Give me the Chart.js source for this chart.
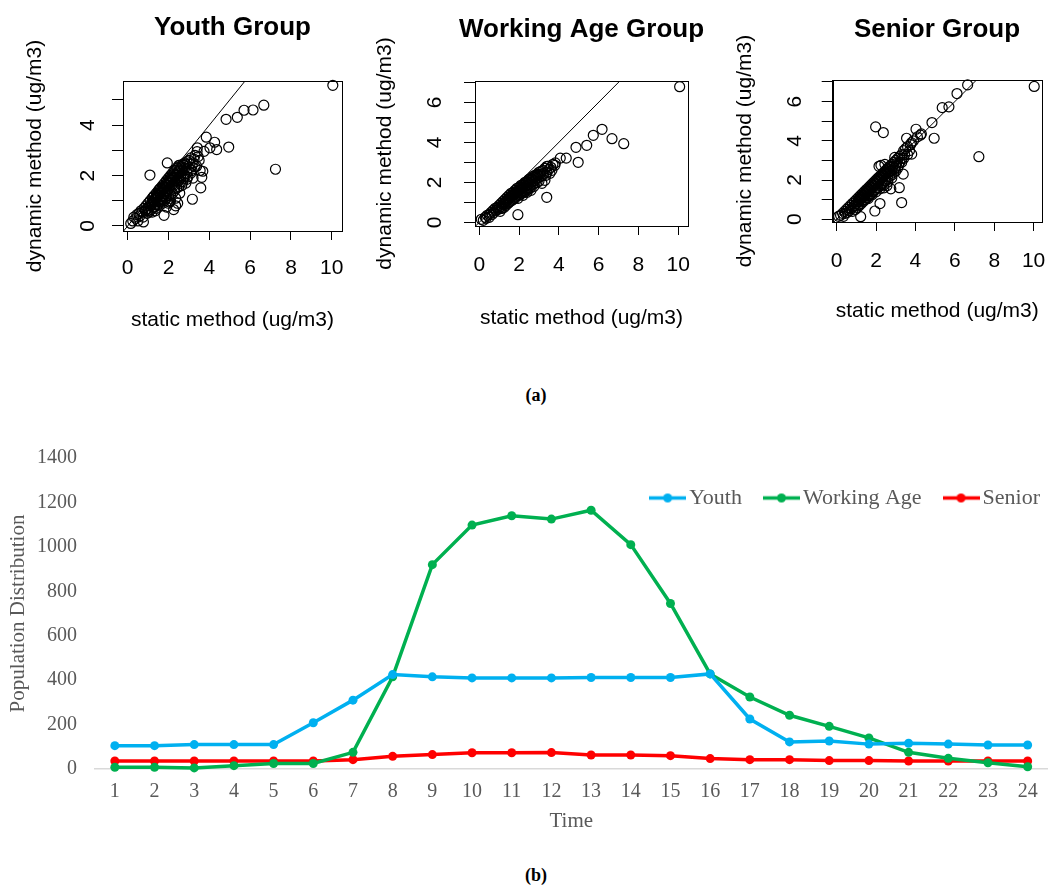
<!DOCTYPE html>
<html>
<head>
<meta charset="utf-8">
<script src="https://cdn.jsdelivr.net/npm/chart.js@4.4.0/dist/chart.umd.min.js"></script>
<style>
  html, body { margin: 0; padding: 0; background: #fff; overflow: hidden; }
  body { width: 1052px; height: 891px; position: relative; overflow: hidden; }
  canvas { position: absolute; }
  .cap { position: absolute; width: 100px; text-align: center; font-family: 'Liberation Serif', serif; font-weight: bold; font-size: 18px; color: #000; }
</style>
</head>
<body>
<canvas id="p1" width="465" height="345" style="left:0px;top:0px"></canvas>
<canvas id="p2" width="463" height="345" style="left:350px;top:0px"></canvas>
<canvas id="p3" width="474" height="345" style="left:700px;top:0px"></canvas>
<div class="cap" style="left:486px;top:385px">(a)</div>
<canvas id="p4" width="1052" height="432" style="left:0px;top:428px"></canvas>
<div class="cap" style="left:486px;top:865px">(b)</div>
<script>
// ---------- (a) scatter data: [static, dynamic] in ug/m3 ----------
const youthPts = [
  [10.05,5.58],[6.67,4.79],[6.14,4.6],[5.70,4.59],[5.37,4.31],[4.82,4.23],[7.24,2.25],[4.95,3.13],
  [3.85,3.52],[4.26,3.32],[4.36,3.03],[4.03,3.1],[3.41,3.1],[3.74,2.96],[1.94,2.5],[1.09,2.02],
  [3.63,1.93],[3.58,1.51],[3.17,1.06],[1.78,0.42],[0.77,0.16],[3.38,2.37],[3.68,2.17],
  [0.15,0.1],[0.25,0.2],[0.3,0.35],[0.4,0.3],[0.45,0.45],[0.5,0.2],[0.55,0.5],[0.6,0.4],[0.65,0.6],
  [0.7,0.55],[0.75,0.35],[0.8,0.7],[0.85,0.6],[0.9,0.8],[0.95,0.5],[1.0,0.9],[1.0,0.7],[1.05,0.55],
  [1.1,1.0],[1.1,0.8],[1.15,0.65],[1.2,1.1],[1.2,0.9],[1.25,0.75],[1.3,1.2],[1.3,1.0],[1.35,0.85],
  [1.35,0.6],[1.4,1.3],[1.4,1.1],[1.45,0.95],[1.5,1.4],[1.5,1.2],[1.5,1.0],[1.55,0.8],[1.6,1.5],
  [1.6,1.3],[1.65,1.1],[1.7,1.6],[1.7,1.4],[1.7,0.9],[1.75,1.2],[1.8,1.7],[1.8,1.5],[1.8,1.0],
  [1.85,1.3],[1.9,1.8],[1.9,1.6],[1.9,0.75],[1.95,1.4],[2.0,1.9],[2.0,1.7],[2.0,1.2],[2.05,1.5],
  [2.1,2.0],[2.1,1.8],[2.1,1.0],[2.15,1.6],[2.2,2.1],[2.2,1.9],[2.2,1.3],[2.25,0.65],[2.3,2.2],
  [2.3,1.75],[2.35,1.1],[2.4,2.3],[2.4,2.0],[2.4,1.5],[2.45,0.9],[2.5,2.4],[2.5,2.15],[2.5,1.8],
  [2.55,1.3],[2.6,2.35],[2.6,2.0],[2.65,1.6],[2.7,2.45],[2.7,2.2],[2.75,1.9],[2.8,2.5],[2.8,2.3],
  [2.85,1.7],[2.9,2.55],[2.9,2.1],[3.0,2.6],[3.0,2.3],[3.1,2.7],[3.2,2.5],[3.3,2.8],[3.3,2.35],
  [3.4,2.95],[3.5,2.6],[3.55,2.2],
  [1.25,1.15],[1.45,1.25],[1.55,1.45],[1.65,1.35],[1.75,1.55],[1.85,1.65],[1.95,1.75],[2.05,1.85],
  [2.15,1.95],[2.25,2.05],[2.35,2.2],[2.45,2.3],[2.55,2.4],[1.6,0.95],[1.85,1.15],[2.0,0.9],
  [2.3,1.4],[2.5,1.55],[2.7,1.75],[2.95,1.95],[3.1,2.1],[3.2,1.9],[1.4,0.7],[1.2,0.55],
  [1.15,0.85],[1.25,1.0],[1.35,1.1],[1.45,1.15],[1.55,1.3],[1.65,1.45],[1.75,1.45],[1.85,1.55],
  [1.95,1.6],[2.05,1.7],[2.15,1.8],[2.25,1.9],[2.35,2.0],[2.45,2.1],[2.55,2.2],[2.65,2.3],[2.75,2.4],
  [2.85,2.45],[1.6,1.15],[1.8,1.35],[2.0,1.45],[2.2,1.65],[2.4,1.8],[2.6,1.9],[2.8,2.0],[1.3,0.75],
  [1.5,0.85],[1.7,1.05],[1.9,1.1],[2.1,1.25],[2.3,1.5],[2.6,1.75],[2.9,1.85],[3.05,2.45],[3.15,2.2],
  [3.25,2.65],[3.45,2.75],[2.35,0.8],[2.05,0.95],[0.9,0.65],[1.0,0.6]
];
const workingPts = [
  [10.07,6.78],[6.17,4.65],[5.73,4.35],[6.67,4.18],[7.26,3.93],[5.40,3.85],[4.86,3.75],[4.97,3.0],
  [4.37,3.21],[4.07,3.21],[3.82,2.97],[3.4,2.8],[3.39,1.25],[1.94,0.38],
  [0.1,0.15],[0.2,0.1],[0.3,0.25],[0.35,0.2],[0.4,0.35],[0.5,0.4],[0.5,0.25],[0.6,0.5],[0.65,0.4],
  [0.7,0.6],[0.75,0.5],[0.8,0.7],[0.85,0.6],[0.9,0.75],[0.95,0.65],[1.0,0.85],[1.0,0.7],[1.05,0.55],
  [1.1,0.95],[1.1,0.8],[1.15,0.7],[1.2,1.05],[1.2,0.9],[1.25,0.75],[1.3,1.15],[1.3,1.0],[1.35,0.85],
  [1.4,1.25],[1.4,1.1],[1.45,0.95],[1.5,1.35],[1.5,1.2],[1.55,1.05],[1.6,1.45],[1.6,1.3],[1.65,1.1],
  [1.7,1.5],[1.7,1.35],[1.75,1.2],[1.8,1.6],[1.8,1.45],[1.85,1.3],[1.9,1.7],[1.9,1.5],[1.95,1.2],
  [2.0,1.75],[2.0,1.6],[2.05,1.4],[2.1,1.85],[2.1,1.65],[2.15,1.45],[2.2,1.9],[2.2,1.7],[2.25,1.5],
  [2.3,2.0],[2.3,1.8],[2.35,1.55],[2.4,2.05],[2.4,1.85],[2.45,1.65],[2.5,2.15],[2.5,1.9],[2.55,1.7],
  [2.6,2.2],[2.6,2.0],[2.7,2.3],[2.7,2.05],[2.75,1.8],[2.8,2.35],[2.8,2.1],[2.9,2.4],[2.9,2.2],
  [3.0,2.5],[3.0,2.25],[3.1,2.55],[3.2,2.6],[3.2,2.35],[3.3,2.7],[3.3,2.1],[3.4,2.5],[3.5,2.65],
  [3.6,2.75],[3.7,2.9],
  [1.5,1.0],[1.7,1.15],[1.9,1.35],[2.1,1.5],[2.3,1.65],[2.5,1.75],[2.7,1.9],[2.9,2.0],[3.1,2.3],
  [1.3,0.9],[1.1,0.7],[2.2,1.35],[2.4,1.5],[2.6,1.6],[3.15,1.95],
  [1.25,0.95],[1.35,1.05],[1.45,1.15],[1.55,1.25],[1.65,1.35],[1.75,1.4],[1.85,1.5],[1.95,1.55],
  [2.05,1.65],[2.15,1.75],[2.25,1.85],[2.35,1.95],[2.45,2.0],[2.55,2.1],[2.65,2.15],[2.75,2.25],
  [2.85,2.3],[2.95,2.35],[3.05,2.4],[3.25,2.45],[1.8,1.2],[2.0,1.35],[2.2,1.55],[2.4,1.7],[2.6,1.85],
  [2.8,1.95],[3.0,2.05],[3.35,2.35],[3.55,2.45],[3.45,2.8],[3.8,2.85],[3.65,2.6]
];
const seniorPts = [
  [10.03,6.77],[6.65,6.85],[6.11,6.41],[5.7,5.73],[5.36,5.69],[4.84,4.93],[4.95,4.13],[7.22,3.19],
  [1.98,4.71],[2.37,4.42],[4.03,4.59],[4.26,4.29],[3.55,4.13],[3.81,3.32],[3.38,2.30],[3.18,1.61],
  [3.30,0.85],[2.2,0.8],[1.94,0.42],[1.22,0.13],
  [0.1,0.15],[0.2,0.2],[0.3,0.3],[0.35,0.15],[0.4,0.4],[0.45,0.3],[0.5,0.5],[0.55,0.35],[0.6,0.6],
  [0.65,0.45],[0.7,0.7],[0.75,0.55],[0.8,0.8],[0.8,0.4],[0.85,0.65],[0.9,0.9],[0.9,0.7],[0.95,0.5],
  [1.0,1.0],[1.0,0.8],[1.05,0.6],[1.1,1.1],[1.1,0.9],[1.15,0.7],[1.2,1.2],[1.2,1.0],[1.25,0.8],
  [1.3,1.3],[1.3,1.1],[1.35,0.9],[1.4,1.4],[1.4,1.2],[1.45,1.0],[1.5,1.5],[1.5,1.3],[1.55,1.1],
  [1.6,1.6],[1.6,1.4],[1.65,1.2],[1.7,1.7],[1.7,1.5],[1.75,1.3],[1.8,1.8],[1.8,1.6],[1.85,1.4],
  [1.9,1.9],[1.9,1.7],[1.95,1.5],[2.0,2.0],[2.0,1.8],[2.05,1.6],[2.1,2.1],[2.1,1.9],[2.15,2.7],
  [2.2,2.2],[2.2,2.0],[2.25,1.7],[2.3,2.3],[2.3,2.1],[2.35,1.85],[2.4,2.4],[2.4,2.2],[2.45,1.95],
  [2.5,2.5],[2.5,2.3],[2.6,2.6],[2.6,2.35],[2.7,2.7],[2.7,2.45],[2.8,2.8],[2.8,2.5],[2.9,2.9],
  [2.95,2.6],[3.0,3.0],[3.0,2.7],[3.1,3.1],[3.2,3.2],[3.3,3.3],[3.3,2.9],[3.4,3.5],[3.5,3.6],
  [3.6,3.7],[3.6,3.3],[3.8,3.9],[3.9,4.0],[3.3,3.1],
  [1.5,1.1],[1.7,1.25],[1.9,1.45],[2.1,1.6],[2.3,1.8],[2.5,2.0],[2.7,2.2],[2.9,2.4],[3.1,2.6],
  [1.3,0.95],[1.1,0.75],[2.4,1.6],[2.6,1.9],[2.8,2.1],[3.2,2.9],[3.4,3.1],
  [1.15,1.05],[1.25,1.15],[1.35,1.25],[1.45,1.35],[1.55,1.45],[1.65,1.55],[1.75,1.65],[1.85,1.75],
  [1.95,1.85],[2.05,1.95],[2.15,2.05],[2.25,2.15],[2.35,2.25],[2.45,2.35],[2.55,2.45],[2.65,2.55],
  [2.75,2.65],[2.85,2.7],[1.6,1.05],[1.8,1.25],[2.0,1.4],[2.2,1.55],[2.4,1.75],[2.6,2.05],[2.8,2.25],
  [3.0,2.45],[3.05,2.85],[3.15,2.75],[3.45,3.3],[3.7,3.5],[3.75,3.8],[4.1,4.2],[4.3,4.35],[2.25,2.75],
  [2.45,2.8],[2.95,3.15],[2.75,1.55],[2.55,1.7]
];
const identityLine = [[-1,-1],[12,12]];
const xTickStep = 2;

// ---------- (b) line chart data ----------
const hours = ['1','2','3','4','5','6','7','8','9','10','11','12','13','14','15','16','17','18','19','20','21','22','23','24'];
const youth   = [105,105,110,110,110,208,310,425,415,410,410,410,412,412,412,428,225,122,126,112,116,112,108,108];
const working = [8,8,5,15,25,25,75,415,920,1098,1140,1125,1165,1010,745,428,324,242,192,140,75,48,28,10];
const senior  = [36,36,36,36,36,36,42,57,65,73,73,74,63,63,60,47,42,42,38,38,36,36,36,36];
const seriesNames = ['Youth','Working Age','Senior'];
const seriesColors = ['#00B0F0','#00B050','#FF0000'];

// ---------- shared ----------
const SANS = "'Liberation Sans', Arial, sans-serif";
const SERIF = "'Liberation Serif', 'Times New Roman', serif";

const boxPlugin = {
  id: 'box',
  afterDatasetsDraw(chart) {
    const a = chart.chartArea, ctx = chart.ctx;
    ctx.save();
    ctx.strokeStyle = '#000';
    ctx.lineWidth = 1;
    ctx.strokeRect(Math.round(a.left) + 0.5, Math.round(a.top) + 0.5, Math.round(a.right - a.left), Math.round(a.bottom - a.top));
    ctx.restore();
  }
};

function scatterPanel(id, cfg) {
  const pts = cfg.pts.map(p => ({x: p[0], y: p[1]}));
  const line = identityLine.map(p => ({x: p[0], y: p[1]}));
  new Chart(document.getElementById(id), {
    type: 'scatter',
    data: {
      datasets: [
        { type: 'line', data: line, borderColor: '#000', borderWidth: 1, pointRadius: 0, clip: 0, order: 1 },
        { data: pts, pointRadius: 5, pointBorderWidth: 1.2, borderColor: '#000', backgroundColor: 'rgba(0,0,0,0)',
          pointBackgroundColor: 'rgba(0,0,0,0)', pointBorderColor: '#000', clip: false, order: 0 }
      ]
    },
    options: {
      responsive: false, animation: false, events: [],
      layout: { padding: 0 },
      plugins: {
        legend: { display: false }, tooltip: { enabled: false },
        title: { display: true, text: cfg.title, color: '#000',
          font: { family: SANS, size: 26, weight: 'bold', lineHeight: 1.2 },
          padding: { top: cfg.titleTop, bottom: cfg.titleBottom } }
      },
      scales: {
        x: {
          type: 'linear', min: cfg.xmin, max: cfg.xmax,
          ticks: { stepSize: xTickStep, includeBounds: false, autoSkip: false, maxRotation: 0, minRotation: 0,
            padding: cfg.xTickPad, color: '#000', font: { family: SANS, size: 21 } },
          grid: { display: true, drawOnChartArea: false, drawTicks: true, tickLength: 9, color: '#000', tickWidth: 1 },
          border: { display: true, color: '#000', width: 1 },
          title: { display: true, text: 'static method (ug/m3)', color: '#000', font: { family: SANS, size: 21 },
            padding: { top: 0, bottom: cfg.xTitlePad } },
          afterFit: s => { s.height = cfg.xH; }
        },
        y: {
          type: 'linear', min: cfg.ymin, max: cfg.ymax,
          ticks: { stepSize: 1, includeBounds: false, autoSkip: false, minRotation: 90, maxRotation: 90,
            crossAlign: 'center', padding: cfg.yTickPad, color: '#000', font: { family: SANS, size: 21 },
            callback: v => (v % 2 === 0 ? String(v) : '') },
          grid: { display: true, drawOnChartArea: false, drawTicks: true, tickLength: 11, color: '#000', tickWidth: 1 },
          border: { display: true, color: '#000', width: 1 },
          title: { display: true, text: 'dynamic method (ug/m3)', color: '#000', font: { family: SANS, size: 21 },
            padding: { top: cfg.yTitlePad, bottom: 0 } },
          afterFit: s => { s.width = cfg.yW; }
        },
        yRight: {
          type: 'linear', position: 'right', display: true,
          ticks: { display: false }, grid: { display: false, drawTicks: false }, border: { display: false },
          afterFit: s => { s.width = cfg.rightW; }
        }
      }
    },
    plugins: [boxPlugin]
  });
}

scatterPanel('p1', { pts: youthPts, title: 'Youth Group', rightW: 123, titleTop: 12.4, titleBottom: 37.4,
  xmin: -0.23, xmax: 10.5, ymin: -0.2, ymax: 5.75, xH: 114, yW: 123,
  xTickPad: 15.4, xTitlePad: 12.4, yTickPad: 18.4, yTitlePad: 22.4 });
scatterPanel('p2', { pts: workingPts, title: 'Working Age Group', rightW: 125, titleTop: 14.4, titleBottom: 35.4,
  xmin: -0.216, xmax: 10.49, ymin: -0.185, ymax: 7.065, xH: 119, yW: 125,
  xTickPad: 18.1, xTitlePad: 14.4, yTickPad: 23.2, yTitlePad: 22.4 });
scatterPanel('p3', { pts: seniorPts, title: 'Senior Group', rightW: 132.3, titleTop: 14.4, titleBottom: 34.4,
  xmin: -0.2, xmax: 10.41, ymin: -0.14, ymax: 7.1, xH: 123, yW: 132.7,
  xTickPad: 18.1, xTitlePad: 20.7, yTickPad: 20.9, yTitlePad: 32.4 });

// ---------- (b) ----------
function legendIcon(color) {
  const c = document.createElement('canvas');
  c.width = 37; c.height = 11;
  const g = c.getContext('2d');
  g.strokeStyle = color; g.lineWidth = 3.5;
  g.beginPath(); g.moveTo(0, 5.5); g.lineTo(37, 5.5); g.stroke();
  g.fillStyle = color;
  g.beginPath(); g.arc(18.5, 5.5, 4.5, 0, Math.PI * 2); g.fill();
  return c;
}
const icons = seriesColors.map(legendIcon);
const seriesData = [youth, working, senior];

// The legend floats inside the plot area (as in the reference): it claims no layout height,
// and is placed at the top right of the plot after layout.
const floatLegend = {
  id: 'floatLegend',
  afterInit(chart) {
    const lg = chart.legend;
    const origFit = lg.fit.bind(lg);
    lg.fit = function () { origFit(); this._floatH = this.height; this.height = 0; };
  },
  afterLayout(chart) {
    const lg = chart.legend;
    lg.top = 30; lg.bottom = lg.top + (lg._floatH || 80); lg.height = lg.bottom - lg.top;
    lg.left = 0; lg.right = 1069; lg.width = lg.right - lg.left;
  }
};

new Chart(document.getElementById('p4'), {
  type: 'line',
  data: {
    labels: hours,
    datasets: seriesNames.map((n, i) => ({
      label: n, data: seriesData[i], borderColor: seriesColors[i], backgroundColor: seriesColors[i],
      borderWidth: 3.5, pointRadius: 4.5, pointBackgroundColor: seriesColors[i], pointBorderWidth: 0,
      tension: 0, clip: false
    }))
  },
  options: {
    responsive: false, animation: false, events: [],
    layout: { padding: { left: 0, right: 4, top: 0, bottom: 0 } },
    plugins: {
      tooltip: { enabled: false },
      legend: {
        position: 'top', align: 'end',
        labels: {
          usePointStyle: true, pointStyleWidth: 21, padding: 29, color: '#595959',
          font: { family: SERIF, size: 22 },
          generateLabels: chart => Chart.defaults.plugins.legend.labels.generateLabels(chart).map((it, i) => {
            it.pointStyle = icons[i]; it.fontColor = '#595959'; return it;
          })
        }
      }
    },
    scales: {
      x: {
        type: 'category', offset: true,
        ticks: { color: '#595959', padding: 10.7, maxRotation: 0, autoSkip: false, font: { family: SERIF, size: 20 } },
        grid: { display: false, drawTicks: false },
        border: { display: true, color: '#d9d9d9', width: 1.5 },
        title: { display: true, text: 'Time', color: '#595959', font: { family: SERIF, size: 21 }, padding: { top: 0, bottom: 25.7 } },
        afterFit: s => { s.height = 91; }
      },
      y: {
        min: 0, max: 1400,
        ticks: { stepSize: 200, color: '#595959', padding: 18, font: { family: SERIF, size: 20 }, callback: v => String(v) },
        grid: { display: false, drawTicks: false },
        border: { display: false },
        title: { display: true, text: 'Population Distribution', color: '#595959', font: { family: SERIF, size: 21 }, padding: { top: 5.4, bottom: 0 } },
        afterFit: s => { s.width = 95; }
      }
    }
  },
  plugins: [floatLegend]
});
</script>
</body>
</html>
